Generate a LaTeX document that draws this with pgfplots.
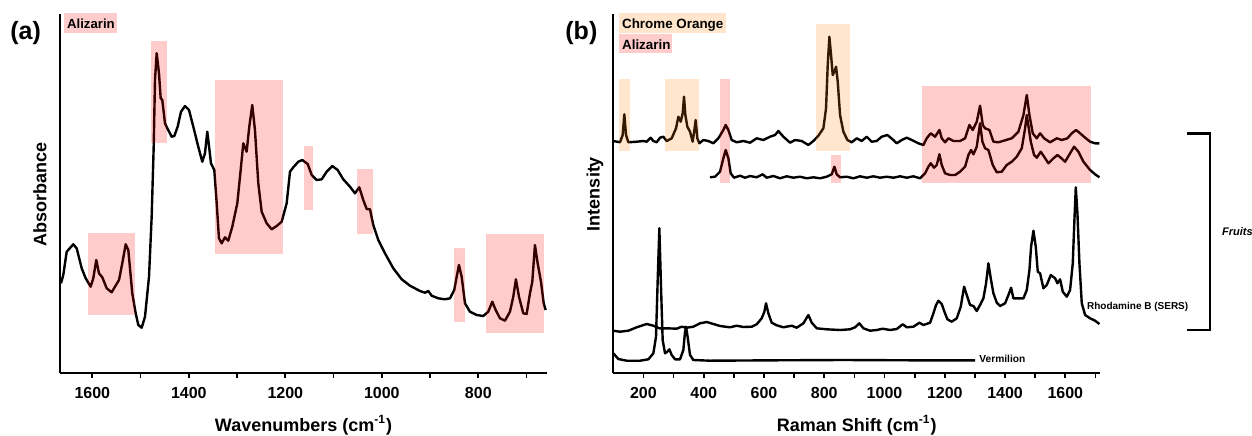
\documentclass[border=0pt]{standalone}
\usepackage{fontspec}
\setmainfont{Liberation Sans}
\usepackage{pgfplots}
\pgfplotsset{compat=1.18}
\colorlet{pinkbox}{red!20}
\colorlet{orangebox}{orange!20}
\pgfplotsset{
  myax/.style={
    scale only axis, height=179.5pt,
    axis x line*=bottom, axis y line*=left,
    axis line style={-, line width=1.1pt},
    ymin=0, ymax=359, ytick=\empty,
    tick align=outside, major tick length=2.5pt, minor tick length=2.5pt,
    every tick/.style={black, line width=0.9pt},
    tick label style={font=\bfseries\fontsize{8}{9}\selectfont, /pgf/number format/assume math mode=true, /pgf/number format/1000 sep={}},
    xticklabel style={anchor=north, inner sep=0pt, yshift=-4.3pt},
    clip=false,
  },
  spec/.style={black, line width=1.2pt, line join=round},
}
\begin{document}
\begin{tikzpicture}
\useasboundingbox (0,0) rectangle (626pt,217.5pt);
% ---------------- panel (a)
\begin{axis}[myax, at={(30pt,31pt)}, anchor=south west, width=243.65pt,
  xmin=657, xmax=1667, x dir=reverse,
  xtick={800,1000,1200,1400,1600}, minor xtick={700,900,1100,1300,1500}]
\addplot[spec] coordinates {
(1664.9,89.7)(1660.2,98)(1653.1,121.3)(1639.4,128.7)(1632.4,124.7)(1622.0,104.7)(1613.7,94.7)(1603.4,86.3)
(1598.0,94.7)(1591.8,113)(1586.2,99.7)(1579.3,95.7)(1570.2,84.7)(1559.9,80.7)(1553.0,86.3)(1544.7,93)
(1537.9,109.7)(1530.8,128.7)(1525.4,123)(1517.2,79.7)(1510.1,59.7)(1504.7,48)(1497.7,45.3)(1490.8,56.3)
(1482.5,96.3)(1477.0,156.3)(1472.8,226.3)(1470.1,293)(1466.6,319.7)(1461.8,299.7)(1458.3,274.7)(1455.0,273)
(1449.4,249.7)(1443.8,244)(1435.5,236.3)(1430.1,237)(1423.1,246.3)(1416.2,261.3)(1407.9,267)(1399.6,263)
(1390.7,246.3)(1380.4,226.3)(1372.1,211.3)(1366.5,219.7)(1361.7,241.3)(1357.6,224.7)(1354.1,209.7)(1347.2,203)
(1342.2,169.7)(1337.5,134.7)(1331.9,129.7)(1325.0,135.7)(1318.2,132.3)(1309.9,146.3)(1299.5,169.7)(1292.5,203)
(1287.1,229.7)(1280.1,221.3)(1274.7,246.3)(1268.5,268)(1262.9,243)(1256.0,189.7)(1249.0,161.3)(1238.6,149.7)
(1228.3,143.7)(1217.9,147)(1207.5,151.3)(1197.2,169.7)(1190.3,201.3)(1183.5,205.7)(1173.1,211.3)(1164.8,213)
(1153.6,209)(1145.3,198)(1135.0,193)(1124.6,193.7)(1114.3,201.3)(1102.6,207)(1091.5,203)(1079.9,193.7)
(1066.0,186.3)(1055.6,179.7)(1046.7,185.7)(1038.4,173)(1031.4,164)(1024.5,163.7)(1017.7,148)(1007.3,133)
(993.4,119.7)(976.2,104.7)(958.8,93.7)(941.6,87.3)(920.9,82)(910.5,80.3)(903.7,82)(896.6,77.3)
(883.0,74.7)(869.1,73.7)(858.7,74.7)(849.8,83)(844.8,96.3)(840.1,108)(834.5,96.3)(827.6,69.7)
(817.3,61.3)(803.4,58)(789.7,57)(779.4,61.3)(771.0,71.3)(764.0,63)(755.1,54.7)(744.7,52.3)
(734.4,61.3)(727.5,76.3)(722.0,93.7)(715.7,76.3)(706.8,59.7)(699.8,59)(692.9,79.7)(688.1,91.3)
(682.6,128)(677.0,109.7)(670.1,91.3)(664.5,69.7)(660.4,63)
};
\fill[red, fill opacity=0.2] (1609.6,58) rectangle (1511.6,140.3);
\fill[red, fill opacity=0.2] (1479.0,230.3) rectangle (1444.6,332.3);
\fill[red, fill opacity=0.2] (1345.1,118.7) rectangle (1205.5,293);
\fill[red, fill opacity=0.2] (1160.7,163) rectangle (1143.3,227);
\fill[red, fill opacity=0.2] (1051.5,139) rectangle (1017.7,203.7);
\fill[red, fill opacity=0.2] (850.4,51) rectangle (828.3,124.7);
\fill[red, fill opacity=0.2] (784.1,39.7) rectangle (664.5,138.7);
\end{axis}
% ---------------- panel (b)
\begin{axis}[myax, at={(306.65pt,31pt)}, anchor=south west, width=243.35pt,
  xmin=100, xmax=1715,
  xtick={200,400,...,1600}, minor xtick={300,500,...,1700}]
% fruit spectrum 1 (chrome orange + alizarin)
\addplot[spec] coordinates {
(100.1,232)(122.2,230.7)(131.1,238)(136.6,258.7)(142.2,238)(149.9,230.7)(177.6,231.3)(199.7,232)
(210.7,231.3)(224.0,235.3)(232.9,232)(243.9,230.7)(255.0,235.3)(266.1,236.3)(277.1,232)(293.7,234.7)
(308.1,244.7)(315.8,256.3)(323.6,251.3)(330.2,259.7)(334.6,276.3)(339.1,258)(345.7,246.3)(354.6,241.3)
(363.4,231.3)(369.0,243)(373.4,253)(378.9,234.7)(385.5,229.7)(398.8,233)(415.4,232)(432.0,229.7)
(448.6,234.7)(465.2,243)(472.9,248)(481.8,243)(492.9,233)(509.4,230.7)(531.6,232)(553.7,230.3)
(575.8,234.7)(598.0,233)(620.1,236.3)(636.7,238)(647.7,242)(664.3,236.3)(686.5,230.3)(703.0,233)
(725.2,232)(747.3,228)(763.9,232)(780.5,237.3)(797.1,244.7)(805.9,264.7)(811.5,308)(817.0,336.3)
(822.5,318)(828.1,298)(833.6,301.3)(839.1,306.3)(844.7,291.3)(852.4,258)(863.5,241.3)(876.7,233)
(891.1,230.7)(907.7,234.7)(924.3,232)(940.9,236.3)(957.5,231.3)(974.1,232)(990.7,236.3)(1009.5,238)
(1029.4,233)(1040.5,229.7)(1057.1,233)(1073.7,235.3)(1090.3,233)(1112.4,229.7)(1129.0,228)(1140.0,234.7)
(1153.3,239.7)(1167.7,236.3)(1182.1,243)(1189.8,234.7)(1200.9,230.7)(1212.0,234.7)(1228.6,232)(1250.7,232)
(1267.3,234.7)(1281.6,248)(1292.7,243)(1306.0,251.3)(1317.0,267.3)(1325.9,248)(1333.6,244.7)(1348.0,243)
(1361.3,231.3)(1377.9,230.7)(1400.0,232.7)(1422.1,234.7)(1444.2,241.3)(1460.9,258)(1472.0,278)(1480.8,258)
(1491.8,239.7)(1505.1,234.7)(1516.2,239.7)(1529.5,234.7)(1549.4,230.7)(1571.5,234.7)(1588.1,233)(1606.9,234.7)
(1621.3,239.7)(1635.7,243)(1648.9,239.7)(1665.6,235.3)(1682.1,231.3)(1698.7,229.7)(1713.1,229.7)
};
% fruit spectrum 2 (alizarin)
\addplot[spec] coordinates {
(420.9,195.7)(437.5,196.3)(454.1,201.3)(465.2,214.7)(472.9,223)(481.8,214.7)(489.5,199.7)(500.6,195.3)
(520.5,197.3)(537.1,195.3)(553.7,197)(575.8,195.7)(595.7,198.7)(609.0,195.3)(631.1,197)(653.3,194.7)
(675.4,196.7)(697.5,195.3)(719.6,196.3)(741.8,194.7)(763.9,195.7)(786.0,194.7)(808.1,196.3)(824.7,198.7)
(833.6,206.3)(841.3,198.7)(852.4,195.7)(874.5,196.3)(896.7,194.7)(918.8,196.7)(940.9,195.3)(963.0,196.7)
(985.2,195.3)(1007.3,196.3)(1029.4,195.3)(1051.5,196.7)(1073.7,195.3)(1095.8,196.7)(1117.9,194.7)(1134.5,199.7)
(1145.6,206.3)(1153.3,209.7)(1164.4,205.3)(1173.2,208)(1182.1,218.7)(1189.8,208)(1200.9,199.7)(1217.5,198)
(1234.1,198)(1250.7,201.3)(1267.3,206.3)(1278.3,218)(1287.2,223)(1294.9,218.7)(1306.0,226.3)(1317.0,249.7)
(1324.8,231.3)(1333.6,224.7)(1344.7,223)(1359.1,208)(1372.4,200.7)(1388.9,201.3)(1405.5,208)(1422.1,211.3)
(1438.7,216.3)(1455.3,224.7)(1466.4,244.7)(1472.0,258)(1485.3,231.3)(1496.3,218)(1505.1,215.3)(1518.4,221.3)
(1529.5,216.3)(1543.9,209.7)(1560.5,214.7)(1573.7,218)(1584.8,215.3)(1599.2,211.3)(1615.7,219.7)(1629.0,226.3)
(1643.4,221.3)(1660.0,211.3)(1682.1,203)(1698.7,198.7)(1713.1,195.7)
};
% Rhodamine B (SERS)
\addplot[spec] coordinates {
(100.1,42.3)(122.2,41.3)(149.9,42.3)(177.6,45.7)(210.7,49)(232.9,47.3)(252.8,44.7)(277.1,44.7)
(310.3,44.3)(326.9,46.3)(343.5,45.3)(365.6,46.3)(387.8,49.7)(409.9,51)(432.0,49)(454.1,47)
(487.3,45.7)(509.4,47.3)(531.6,46)(559.2,46.3)(575.8,48.7)(592.4,54.7)(601.3,61.3)(606.8,69.7)
(614.5,59.7)(625.6,50.3)(642.2,47.7)(664.3,45.7)(692.0,47.3)(708.6,45.3)(730.7,49.7)(747.3,58)
(758.4,50.3)(775.0,44.7)(808.1,43.7)(852.4,43)(885.6,43.7)(902.2,45.7)(916.5,49.7)(929.8,44.7)
(951.9,42.3)(974.1,43)(994.0,44.3)(1018.3,43)(1040.5,44)(1060.4,48.7)(1073.7,45.7)(1095.8,46.3)
(1115.7,50.3)(1129.0,48)(1151.1,50.3)(1162.2,59.7)(1171.0,68)(1178.8,72.3)(1189.8,69)(1198.7,61.3)
(1208.6,53.7)(1223.0,51.3)(1239.6,54.7)(1252.9,66.3)(1264.0,86.3)(1272.8,78)(1283.9,68)(1294.9,67)
(1306.0,62)(1317.0,68)(1328.1,74.7)(1336.9,89.7)(1344.7,109.7)(1352.4,94.7)(1361.3,79.7)(1372.4,70.3)
(1383.4,67)(1400.0,69.7)(1411.1,78)(1419.9,85.3)(1427.7,74.7)(1444.2,74.7)(1460.9,74.7)(1472.0,83)
(1480.8,103)(1486.3,126.3)(1494.1,142.3)(1501.8,126.3)(1508.5,101.3)(1516.2,99.7)(1527.2,84.7)(1538.3,88)
(1551.6,98)(1566.0,94.7)(1573.7,89.7)(1582.6,93.7)(1591.4,81.3)(1604.7,76.3)(1615.7,83)(1624.6,109.7)
(1630.1,153)(1634.6,185.7)(1640.1,159.7)(1646.7,109.7)(1654.5,69.7)(1665.6,58)(1682.1,54.7)(1698.7,52.3)
(1713.1,49)
};
% Vermilion
\addplot[spec] coordinates {
(100.1,19.7)(116.7,14)(144.4,12.3)(188.6,12.3)(216.3,13.7)(232.9,19.7)(241.7,36.3)(247.3,93)
(252.8,144.7)(258.3,86.3)(263.8,33)(271.6,19.7)(279.3,21.3)(286.0,23.7)(293.7,18)(304.8,13.7)
(321.4,13.7)(332.4,23)(338.0,41.3)(341.3,46.3)(345.7,38)(354.6,18)(365.6,13)(421.0,12.3)
(642.2,12.7)(863.5,13)(1084.7,12.7)(1300.4,12.7)
};
\fill[orange, fill opacity=0.2] (119.9,222.3) rectangle (155.4,294);
\fill[orange, fill opacity=0.2] (271.6,222.3) rectangle (385.4,294);
\fill[red, fill opacity=0.2] (454.1,189.7) rectangle (487.3,294);
\fill[orange, fill opacity=0.2] (771.8,222.3) rectangle (885.6,349);
\fill[red, fill opacity=0.2] (821.5,189.7) rectangle (855.7,218);
\fill[red, fill opacity=0.2] (1125.6,189.7) rectangle (1685.5,287.3);
\end{axis}
% ---------------- annotations in pixel units
\begin{scope}[x=0.5pt, y=-0.5pt, yshift=217.5pt]
\node[anchor=base west, inner sep=0pt, font=\bfseries\fontsize{12.5}{14}\selectfont] at (10,39.5) {(a)};
\node[anchor=base west, inner sep=0pt, font=\bfseries\fontsize{12.5}{14}\selectfont] at (565,39.5) {(b)};
\node[rotate=90, inner sep=0pt, font=\bfseries\fontsize{9}{10}\selectfont] at (40,194) {Absorbance};
\node[rotate=90, inner sep=0pt, font=\bfseries\fontsize{9}{10}\selectfont] at (595,194) {Intensity};
\node[anchor=base, inner sep=0pt, font=\bfseries\fontsize{9}{10}\selectfont] at (303.5,431.5) {Wavenumbers (cm\textsuperscript{-1})};
\node[anchor=base, inner sep=0pt, font=\bfseries\fontsize{9}{10}\selectfont] at (856.7,431.5) {Raman Shift (cm\textsuperscript{-1})};
\fill[pinkbox] (64,13.3) rectangle (117.3,33.3);
\node[anchor=base west, inner sep=0pt, font=\bfseries\fontsize{6.6}{8}\selectfont] at (66.7,28.3) {Alizarin};
\fill[orangebox] (619,13.3) rectangle (725.7,33.3);
\node[anchor=base west, inner sep=0pt, font=\bfseries\fontsize{6.7}{8}\selectfont] at (621.7,28.3) {Chrome Orange};
\fill[pinkbox] (619,34.3) rectangle (672,53.3);
\node[anchor=base west, inner sep=0pt, font=\bfseries\fontsize{6.7}{8}\selectfont] at (621.7,49) {Alizarin};
\node[anchor=base west, inner sep=0pt, font=\bfseries\fontsize{5}{6}\selectfont] at (1086.7,309.3) {Rhodamine B (SERS)};
\node[anchor=base west, inner sep=0pt, font=\bfseries\fontsize{5.1}{6}\selectfont] at (979,362.3) {Vermilion};
\draw[line width=1.2pt] (1186.7,133.3) -- (1210,133.3) -- (1210,330) -- (1186.7,330);
\node[anchor=base west, inner sep=0pt, font=\bfseries\itshape\fontsize{5.5}{6}\selectfont] at (1221.7,235.5) {Fruits};
\end{scope}
\end{tikzpicture}
\end{document}
